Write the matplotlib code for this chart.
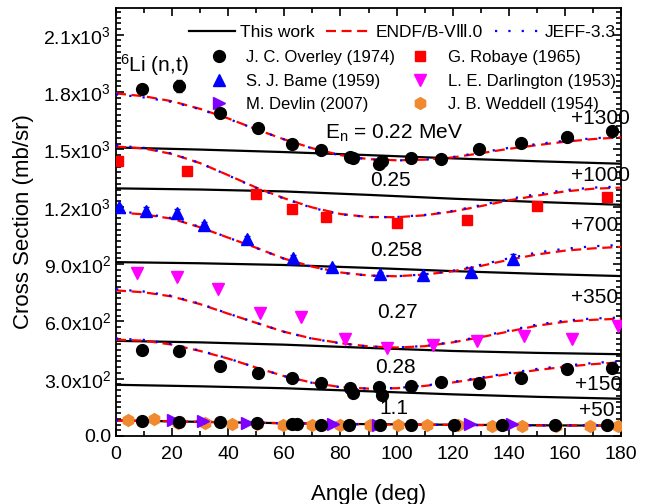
import numpy as np
import matplotlib
matplotlib.use("Agg")
from matplotlib import pyplot as plt
from matplotlib.ticker import MultipleLocator, FixedLocator, FixedFormatter
from matplotlib.lines import Line2D

plt.rcParams['font.family'] = ['Liberation Sans', 'DejaVu Sans']
plt.rcParams['mathtext.fontset'] = 'custom'
plt.rcParams['mathtext.rm'] = 'Liberation Sans'
plt.rcParams['mathtext.it'] = 'Liberation Sans:italic'

# ---- evaluated curves (offset already applied), angle grid 0..180 step 10
ang_grid = [0, 10, 20, 30, 40, 50, 60, 70, 80, 90, 100, 110, 120, 130, 140, 150, 160, 170, 180]
endf_022 = [1793, 1778, 1752, 1712, 1662, 1605, 1552, 1506, 1470, 1449, 1443, 1446, 1458, 1480, 1503, 1522, 1540, 1554, 1563]
endf_025 = [1515, 1505, 1476, 1428, 1365, 1300, 1244, 1196, 1162, 1146, 1145, 1155, 1175, 1203, 1233, 1258, 1280, 1294, 1300]
endf_0258 = [1170, 1160, 1137, 1092, 1038, 985, 928, 886, 856, 840, 836, 845, 862, 890, 922, 950, 970, 982, 990]
endf_027 = [762, 752, 730, 690, 640, 592, 545, 510, 486, 469, 463, 470, 490, 517, 547, 577, 598, 608, 614]
endf_028 = [504, 499, 478, 445, 405, 358, 313, 279, 256, 248, 250, 262, 280, 302, 324, 345, 362, 376, 386]
endf_11 = [80, 79, 77, 74, 72, 69, 67, 65, 63, 61, 60, 59, 58, 57, 56, 56, 55, 55, 55]

jeff_022 = [1788, 1772, 1748, 1710, 1660, 1605, 1552, 1505, 1468, 1447, 1442, 1446, 1460, 1484, 1508, 1528, 1545, 1558, 1566]
jeff_025 = [1520, 1508, 1478, 1428, 1364, 1298, 1242, 1194, 1160, 1146, 1146, 1157, 1178, 1208, 1240, 1266, 1287, 1300, 1306]
jeff_0258 = [1175, 1164, 1140, 1094, 1038, 984, 927, 884, 854, 839, 836, 846, 865, 896, 930, 960, 980, 993, 1000]
jeff_027 = [768, 756, 733, 692, 641, 592, 545, 509, 485, 468, 463, 471, 492, 521, 552, 583, 604, 615, 620]
jeff_028 = [510, 503, 481, 447, 406, 358, 313, 278, 255, 248, 251, 264, 283, 306, 329, 351, 368, 382, 392]
jeff_11 = [82, 80, 78, 75, 72, 69, 67, 65, 63, 61, 60, 59, 58, 57, 57, 56, 56, 56, 56]

# ---- this work
ang_tw = [0, 30, 60, 90, 120, 150, 180]
tw_022 = [1510, 1499, 1486, 1470, 1453, 1438, 1425]
tw_025 = [1296, 1290, 1280, 1262, 1242, 1225, 1210]
tw_0258 = [910, 904, 895, 880, 863, 849, 837]
tw_027 = [498, 490, 478, 461, 445, 435, 428]
tw_028 = [268, 260, 250, 234, 218, 205, 195]
tw_11 = [82, 74, 67, 62, 59, 56, 54]

# ---- experimental data
ang_ov = [9.2, 22.6, 37.1, 50.5, 62.6, 73, 83.5, 84.5, 93.6, 94.8, 105, 116, 129.5, 144.2, 160.8, 176.8]
ov_022 = [1814, 1832, 1693, 1614, 1526, 1498, 1459, 1453, 1421, 1437, 1456, 1451, 1500, 1532, 1563, 1595]
ov_022_err = [12, 30, 10, 10, 10, 10, 10, 10, 10, 10, 10, 10, 10, 10, 10, 10]
ov_028 = [451, 447, 365, 332, 302, 275, 249, 223, 258, 214, 261, 284, 275, 302, 349, 354]
ang_ov11 = [9.2, 22.6, 37, 50.4, 62.6, 64.5, 73, 83, 94, 105, 120.5, 137.5, 156.5, 175]
ov_11 = [77, 74, 72, 68, 62, 62, 60, 60, 58, 60, 58, 60, 56, 60]

ang_rob = [0.8, 25.2, 49.9, 62.6, 75, 100, 125, 150, 175]
rob_025 = [1438, 1389, 1267, 1188, 1147, 1117, 1130, 1202, 1249]

ang_bame = [1, 10.7, 21.6, 31.4, 46.8, 63, 76.9, 94, 109.5, 126.4, 141.6]
bame_0258 = [1196, 1179, 1165, 1105, 1030, 933, 884, 846, 841, 858, 925]
bame_err = [15, 20, 25, 15, 15, 15, 12, 12, 12, 12, 25]

ang_dar = [7.6, 21.8, 36.5, 51.3, 66, 81.6, 96.7, 113, 128.8, 145.4, 162.4, 178.8]
dar_027 = [854, 832, 767, 644, 621, 509, 463, 474, 495, 521, 507, 574]

ang_dev = [20.4, 31, 46.6, 77.4, 93.5, 126, 141]
dev_11 = [82, 76, 70, 64, 60, 63, 63]
dev_err = [10, 8, 8, 8, 10, 6, 6]

ang_wed = [4.4, 13.6, 22.2, 31.7, 41.2, 50.1, 59.6, 69.7, 80, 90.5, 100.6, 111, 122, 134, 144.6, 157, 169, 179]
wed_11 = [86, 91, 70, 70, 65, 64, 60, 60, 60, 58, 57, 56, 56, 53, 53, 53, 52, 52]

# labels
energies = ["E$_{\\rm n}$ = 0.22 MeV", "0.25", "0.258", "0.27", "0.28", "1.1"]
en_pos = [(74.5, 1583), (90.5, 1337), (90.5, 970), (93, 645), (92.3, 357), (94, 143)]
offsets = ["+1300", "+1000", "+700", "+350", "+150", "+50"]
off_pos = [(162, 1661), (162, 1363), (162, 1100), (162, 723), (163.5, 267), (165, 135)]

yticks = [0, 300, 600, 900, 1200, 1500, 1800, 2100]
ytick_labels = ["0.0", "3.0x10$^2$", "6.0x10$^2$", "9.0x10$^2$", "1.2x10$^3$",
                "1.5x10$^3$", "1.8x10$^3$", "2.1x10$^3$"]

fig = plt.figure(figsize=(6.58, 5.04), dpi=100)
ax = fig.add_axes([116/658, 68/504, 505/658, 428/504])

lw = 1.6
dash = (0, (4.5, 2.5))
dots = (0, (1, 5))
for y in [tw_022, tw_025, tw_0258, tw_027, tw_028, tw_11]:
    ax.plot(ang_tw, y, color='black', lw=lw, zorder=2)
for y in [endf_022, endf_025, endf_0258, endf_027, endf_028, endf_11]:
    ax.plot(ang_grid, y, color='red', lw=lw, ls=dash, zorder=3)
for y in [jeff_022, jeff_025, jeff_0258, jeff_027, jeff_028, jeff_11]:
    ax.plot(ang_grid, y, color='blue', lw=lw, ls=dots, zorder=4)

ms = 8.5
ax.errorbar(ang_ov, ov_022, yerr=ov_022_err, fmt='o', color='black', ms=ms, capsize=2, elinewidth=1, zorder=5)
ax.plot(ang_ov, ov_028, 'o', color='black', ms=ms, zorder=5)
ax.plot(ang_ov11, ov_11, 'o', color='black', ms=ms, zorder=6)
ax.plot(ang_rob, rob_025, 's', color='red', ms=7.5, zorder=5)
ax.errorbar(ang_bame, bame_0258, yerr=bame_err, fmt='^', color='blue', ms=ms, capsize=2, elinewidth=1, zorder=5)
ax.plot(ang_dar, dar_027, 'v', color='#FF00FF', ms=ms, zorder=5)
ax.errorbar(ang_dev, dev_11, yerr=dev_err, fmt='>', color='#8000FF', ms=ms, capsize=2, elinewidth=1, zorder=5)
ax.plot(ang_wed, wed_11, 'h', color='#F0892F', ms=ms, zorder=4.5)

fs = 15
for t, (x, y) in zip(energies, en_pos):
    ax.text(x, y, t, fontsize=fs, va='center', ha='left')
for t, (x, y) in zip(offsets, off_pos):
    ax.text(x, y, t, fontsize=fs, va='center', ha='left', clip_on=False)
ax.text(1.5, 1942, "$^6$Li (n,t)", fontsize=fs, va='center', ha='left')

ax.set_xlim(0, 180)
ax.set_ylim(0, 2240)
ax.xaxis.set_major_locator(MultipleLocator(20))
ax.xaxis.set_minor_locator(MultipleLocator(10))
ax.yaxis.set_major_locator(FixedLocator(yticks))
ax.yaxis.set_major_formatter(FixedFormatter(ytick_labels))
ax.yaxis.set_minor_locator(MultipleLocator(30))
ax.tick_params(which='both', direction='in', top=True, right=True, labelsize=14, width=1.2)
ax.tick_params(which='major', length=6)
ax.tick_params(which='minor', length=3.5)
ax.tick_params(axis='x', which='major', pad=7)
for s in ax.spines.values():
    s.set_linewidth(1.3)
ax.set_xlabel("Angle (deg)", fontsize=16, labelpad=15)
ax.set_ylabel("Cross Section (mb/sr)", fontsize=16, labelpad=7)

h1 = [Line2D([], [], color='black', lw=lw),
      Line2D([], [], color='red', lw=lw, ls=dash),
      Line2D([], [], color='blue', lw=lw, ls=dots)]
leg1 = ax.legend(h1, ["This work", "ENDF/B-V\u2162.0", "JEFF-3.3"], ncol=3, loc='center right',
                 bbox_to_anchor=(0.99, 0.942), frameon=False, fontsize=12.5, handlelength=2.6,
                 handletextpad=0.3, columnspacing=0.65, borderpad=0, borderaxespad=0)
ax.add_artist(leg1)

def mk(m, c, s):
    return Line2D([], [], marker=m, color=c, ls='none', ms=s)
h2 = [mk('o', 'black', ms), mk('^', 'blue', ms), mk('>', '#8000FF', ms),
      mk('s', 'red', 7.5), mk('v', '#FF00FF', ms), mk('h', '#F0892F', ms)]
l2 = ["J. C. Overley (1974)", "S. J. Bame (1959)", "M. Devlin (2007)",
      "G. Robaye (1965)", "L. E. Darlington (1953)", "J. B. Weddell (1954)"]
ax.legend(h2, l2, ncol=2, loc='upper right', bbox_to_anchor=(0.99, 0.902), frameon=False,
          fontsize=12, handlelength=1.0, handletextpad=1.15, columnspacing=1.0,
          labelspacing=0.52, borderpad=0, borderaxespad=0)

fig.savefig("out.png", dpi=100)
